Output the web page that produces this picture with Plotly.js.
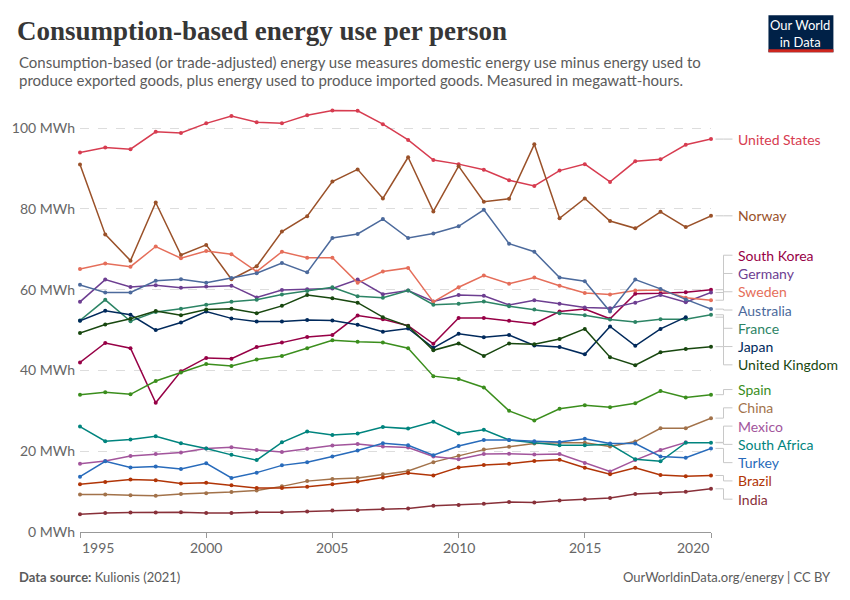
<!DOCTYPE html>
<html>
<head>
<meta charset="utf-8">
<script src="https://cdn.plot.ly/plotly-3.0.1.min.js"></script>
<style>
  html, body { margin: 0; padding: 0; background: #ffffff; }
  #chart { width: 850px; height: 600px; }
</style>
</head>
<body>
<div id="chart"></div>
<script>
const years = [1995, 1996, 1997, 1998, 1999, 2000, 2001, 2002, 2003, 2004, 2005, 2006, 2007,
  2008, 2009, 2010, 2011, 2012, 2013, 2014, 2015, 2016, 2017, 2018, 2019, 2020];

const unitedStates = [94.0, 95.2, 94.8, 99.1, 98.8, 101.2, 103.0, 101.5, 101.2, 103.2, 104.4, 104.3, 101.0,
  97.1, 92.1, 91.1, 89.7, 87.1, 85.7, 89.5, 91.1, 86.7, 91.8, 92.3, 95.9, 97.3];
const norway = [91.0, 73.7, 67.2, 81.6, 68.6, 71.1, 62.6, 65.8, 74.4, 78.2, 86.8, 89.8, 82.6,
  92.8, 79.4, 90.6, 81.8, 82.5, 96.0, 77.7, 82.6, 77.0, 75.2, 79.3, 75.5, 78.3];
const southKorea = [42.0, 46.8, 45.5, 32.0, 39.8, 43.1, 42.9, 45.8, 46.9, 48.3, 48.8, 53.6, 52.7,
  51.1, 46.6, 53.0, 53.0, 52.3, 51.6, 54.6, 55.2, 52.8, 59.0, 59.1, 59.4, 60.0];
const germany = [57.0, 62.5, 60.7, 61.1, 60.5, 60.8, 61.0, 58.1, 59.9, 60.1, 60.3, 62.5, 58.9,
  59.8, 57.1, 58.7, 58.5, 56.2, 57.4, 56.5, 55.6, 55.4, 56.8, 58.7, 56.9, 59.3];
const sweden = [65.1, 66.5, 65.7, 70.7, 67.8, 69.6, 68.8, 64.5, 69.4, 67.9, 67.9, 61.7, 64.5,
  65.4, 57.0, 60.6, 63.5, 61.5, 63.0, 61.0, 59.2, 58.8, 59.8, 59.9, 58.0, 57.4];
const australia = [61.2, 59.3, 59.3, 62.2, 62.6, 61.7, 62.9, 64.1, 66.6, 64.3, 72.8, 73.8, 77.5,
  72.8, 73.9, 75.7, 79.8, 71.4, 69.4, 63.0, 62.1, 54.6, 62.5, 60.2, 57.6, 55.2];
const france = [52.4, 57.5, 52.2, 54.5, 55.3, 56.3, 57.0, 57.5, 58.8, 59.7, 60.6, 58.4, 58.0,
  59.8, 56.3, 56.5, 57.1, 55.9, 55.1, 54.2, 53.7, 52.6, 52.0, 52.7, 52.7, 53.8];
// Japan and Mexico stop in 2019
const japan = [52.3, 54.8, 53.8, 50.0, 51.9, 54.6, 52.9, 52.1, 52.1, 52.5, 52.4, 51.3, 49.6,
  50.4, 45.6, 49.1, 48.2, 48.8, 46.2, 45.8, 44.0, 50.9, 46.1, 50.3, 53.2];
const unitedKingdom = [49.3, 51.4, 52.8, 54.7, 53.7, 55.1, 55.3, 54.2, 56.0, 58.7, 57.9, 56.8, 53.2,
  51.0, 45.0, 46.7, 43.6, 46.7, 46.5, 47.8, 50.3, 43.3, 41.3, 44.5, 45.3, 45.9];
const spain = [34.0, 34.6, 34.1, 37.4, 39.5, 41.6, 41.1, 42.7, 43.6, 45.5, 47.5, 47.1, 46.9,
  45.5, 38.6, 37.9, 35.8, 30.0, 27.6, 30.5, 31.4, 30.9, 31.9, 34.9, 33.3, 34.0];
const china = [9.3, 9.3, 9.1, 9.0, 9.4, 9.6, 9.9, 10.3, 11.3, 12.6, 13.1, 13.4, 14.3,
  15.1, 17.3, 18.9, 20.4, 21.1, 21.9, 22.1, 22.1, 21.2, 22.4, 25.7, 25.7, 28.2];
const mexico = [16.9, 17.6, 18.8, 19.3, 19.7, 20.7, 21.0, 20.3, 19.8, 20.6, 21.4, 21.8, 21.2,
  20.9, 18.7, 18.0, 19.3, 19.4, 19.2, 19.3, 17.1, 15.0, 17.8, 20.3, 22.2];
const southAfrica = [26.1, 22.5, 22.9, 23.7, 22.0, 20.7, 19.1, 17.8, 22.2, 24.9, 24.0, 24.4, 26.0,
  25.6, 27.3, 24.4, 25.3, 22.8, 22.1, 21.5, 21.5, 21.7, 18.0, 17.5, 22.1, 22.1];
const turkey = [13.7, 17.5, 16.0, 16.2, 15.6, 17.0, 13.4, 14.7, 16.5, 17.3, 18.7, 20.2, 22.0,
  21.5, 19.0, 21.3, 22.8, 22.8, 22.5, 22.3, 23.1, 21.9, 21.9, 18.7, 18.4, 20.7];
const brazil = [11.8, 12.4, 13.0, 12.8, 12.0, 12.2, 11.6, 10.9, 10.9, 11.2, 11.8, 12.5, 13.5,
  14.6, 14.0, 16.0, 16.6, 16.9, 17.6, 17.9, 15.9, 14.3, 15.9, 14.1, 13.8, 14.0];
const india = [4.4, 4.7, 4.8, 4.8, 4.9, 4.7, 4.7, 4.9, 4.9, 5.1, 5.3, 5.4, 5.7,
  5.8, 6.5, 6.7, 7.0, 7.4, 7.3, 7.8, 8.1, 8.4, 9.4, 9.6, 9.95, 10.7];

const xTickYears = [1995, 2000, 2005, 2010, 2015, 2020];
const yTickValues = [0, 20, 40, 60, 80, 100];
const yTickLabels = ["0 MWh", "20 MWh", "40 MWh", "60 MWh", "80 MWh", "100 MWh"];

const series = [
  { name: "United States", values: unitedStates, color: "#d73c50" },
  { name: "Norway", values: norway, color: "#9a5129" },
  { name: "South Korea", values: southKorea, color: "#970046" },
  { name: "Germany", values: germany, color: "#6d3e91" },
  { name: "Sweden", values: sweden, color: "#e56e5a" },
  { name: "Australia", values: australia, color: "#4c6a9c" },
  { name: "France", values: france, color: "#2c8465" },
  { name: "Japan", values: japan, color: "#00295b" },
  { name: "United Kingdom", values: unitedKingdom, color: "#18470f" },
  { name: "Spain", values: spain, color: "#3b8e1d" },
  { name: "China", values: china, color: "#a2724a" },
  { name: "Mexico", values: mexico, color: "#a2559c" },
  { name: "South Africa", values: southAfrica, color: "#00847e" },
  { name: "Turkey", values: turkey, color: "#286bbb" },
  { name: "Brazil", values: brazil, color: "#b13507" },
  { name: "India", values: india, color: "#883039" },
];

// plot box in pixels
const box = { left: 80, right: 711.5, top: 107.8, bottom: 532.5, width: 850, height: 600 };
const yMax = 105;
const unitPx = (box.bottom - box.top) / yMax;

function paperX(px) {
  return (px - box.left) / (box.right - box.left);
}

function paperY(py) {
  return (box.bottom - py) / (box.bottom - box.top);
}

function lastValue(item) {
  return item.values[item.values.length - 1];
}

// spread end labels so they do not overlap, keeping each cluster centred on its values
function spreadLabels(items, gap) {
  const sorted = items
    .map((item) => ({ item, value: lastValue(item) }))
    .sort((a, b) => b.value - a.value);
  const clusters = sorted.map((entry) => ({ members: [entry] }));

  const place = (cluster) => {
    const mean = cluster.members.reduce((sum, m) => sum + m.value, 0) / cluster.members.length;
    const top = mean + ((cluster.members.length - 1) * gap) / 2;
    cluster.members.forEach((m, i) => {
      m.labelY = top - i * gap;
    });
  };

  clusters.forEach(place);
  let merged = true;
  while (merged) {
    merged = false;
    for (let i = 0; i < clusters.length - 1; i++) {
      const upper = clusters[i];
      const lower = clusters[i + 1];
      const upperBottom = upper.members[upper.members.length - 1].labelY;
      const lowerTop = lower.members[0].labelY;
      if (upperBottom - lowerTop < gap - 1e-9) {
        const joined = { members: upper.members.concat(lower.members) };
        place(joined);
        clusters.splice(i, 2, joined);
        merged = true;
        break;
      }
    }
  }
  return sorted;
}

function buildTraces() {
  return series.map((item) => ({
    x: years.slice(0, item.values.length),
    y: item.values,
    type: "scatter",
    mode: "lines+markers",
    name: item.name,
    line: { color: item.color, width: 1.5 },
    marker: { color: item.color, size: 4 },
    cliponaxis: false,
    hovertemplate: "%{x}: %{y:.1f} MWh<extra>" + item.name + "</extra>",
  }));
}

function buildLabelParts() {
  const placed = spreadLabels(series, 18.3 / unitPx);
  const annotations = [];
  const shapes = [];
  const x0 = paperX(716);
  const xElbow = paperX(724);
  const x1 = paperX(733);

  placed.forEach((entry) => {
    annotations.push({
      xref: "paper",
      yref: "y",
      x: paperX(737),
      y: entry.labelY,
      xanchor: "left",
      yanchor: "middle",
      showarrow: false,
      text: entry.item.name,
      font: { family: "Lato, sans-serif", size: 14, color: entry.item.color },
    });
    shapes.push({
      type: "path",
      xref: "paper",
      yref: "y",
      path: `M ${x0} ${entry.value} L ${xElbow} ${entry.value} L ${xElbow} ${entry.labelY} L ${x1} ${entry.labelY}`,
      line: { color: "#c8c8c8", width: 1 },
    });
  });
  return { annotations, shapes };
}

function buildAxisLabels() {
  return xTickYears.map((year, i) => {
    let anchor = "center";
    if (i === 0) anchor = "left";
    if (i === xTickYears.length - 1) anchor = "right";
    return {
      xref: "x",
      yref: "paper",
      x: year,
      y: paperY(548),
      xanchor: anchor,
      yanchor: "middle",
      showarrow: false,
      text: String(year),
      font: { family: "Lato, sans-serif", size: 14, color: "#666666" },
    };
  });
}

function buildHeader() {
  const grey = "#5b5b5b";
  return [
    {
      xref: "paper", yref: "paper",
      x: paperX(17), y: paperY(62),
      xanchor: "left", yanchor: "middle", align: "left",
      showarrow: false,
      text: "Consumption-based (or trade-adjusted) energy use measures domestic energy use minus energy used to",
      font: { family: "Lato, sans-serif", size: 15, color: grey },
    },
    {
      xref: "paper", yref: "paper",
      x: paperX(17), y: paperY(80),
      xanchor: "left", yanchor: "middle", align: "left",
      showarrow: false,
      text: "produce exported goods, plus energy used to produce imported goods. Measured in megawatt-hours.",
      font: { family: "Lato, sans-serif", size: 15, color: grey },
    },
    {
      xref: "paper", yref: "paper",
      x: paperX(801), y: paperY(33),
      xanchor: "center", yanchor: "middle", align: "center",
      showarrow: false,
      text: "Our World<br>in Data",
      font: { family: "Lato, sans-serif", size: 13, color: "#ffffff" },
    },
    {
      xref: "paper", yref: "paper",
      x: paperX(17), y: paperY(578),
      xanchor: "left", yanchor: "middle",
      showarrow: false,
      text: "<b>Data source:</b> Kulionis (2021)",
      font: { family: "Lato, sans-serif", size: 13, color: grey },
    },
    {
      xref: "paper", yref: "paper",
      x: paperX(834), y: paperY(578),
      xanchor: "right", yanchor: "middle",
      showarrow: false,
      text: "OurWorldinData.org/energy | CC BY",
      font: { family: "Lato, sans-serif", size: 13, color: grey },
    },
  ];
}

function buildLogoShapes() {
  return [
    {
      type: "rect", xref: "paper", yref: "paper",
      x0: paperX(769), x1: paperX(834), y0: paperY(52), y1: paperY(15),
      fillcolor: "#002147", line: { width: 0 },
    },
    {
      type: "rect", xref: "paper", yref: "paper",
      x0: paperX(769), x1: paperX(834), y0: paperY(52), y1: paperY(49),
      fillcolor: "#ce261e", line: { width: 0 },
    },
  ];
}

function render() {
  const labelParts = buildLabelParts();
  const layout = {
    width: box.width,
    height: box.height,
    margin: {
      l: box.left,
      r: box.width - box.right,
      t: box.top,
      b: box.height - box.bottom,
    },
    paper_bgcolor: "#ffffff",
    plot_bgcolor: "#ffffff",
    showlegend: false,
    title: {
      text: "Consumption-based energy use per person",
      xref: "container",
      yref: "container",
      x: 17 / box.width,
      xanchor: "left",
      y: 1 - 31 / box.height,
      yanchor: "middle",
      font: { family: "Liberation Serif, serif", size: 27, color: "#363636", weight: 700 },
    },
    xaxis: {
      range: [1995, 2020],
      tickvals: xTickYears,
      showticklabels: false,
      ticks: "outside",
      ticklen: 5,
      tickcolor: "#999999",
      showline: true,
      linecolor: "#999999",
      linewidth: 1,
      showgrid: false,
      zeroline: false,
      fixedrange: true,
    },
    yaxis: {
      range: [0, yMax],
      tickmode: "array",
      tickvals: yTickValues,
      ticktext: yTickLabels,
      tickfont: { family: "Lato, sans-serif", size: 14, color: "#666666" },
      ticks: "",
      ticklabelstandoff: 4,
      showgrid: true,
      gridcolor: "#dddddd",
      griddash: "dash",
      gridwidth: 1,
      zeroline: false,
      showline: false,
      fixedrange: true,
    },
    annotations: buildHeader().concat(buildAxisLabels(), labelParts.annotations),
    shapes: buildLogoShapes().concat(labelParts.shapes),
    font: { family: "Lato, sans-serif", color: "#5b5b5b" },
  };

  Plotly.newPlot("chart", buildTraces(), layout, { displayModeBar: false });
}

render();
</script>
</body>
</html>
